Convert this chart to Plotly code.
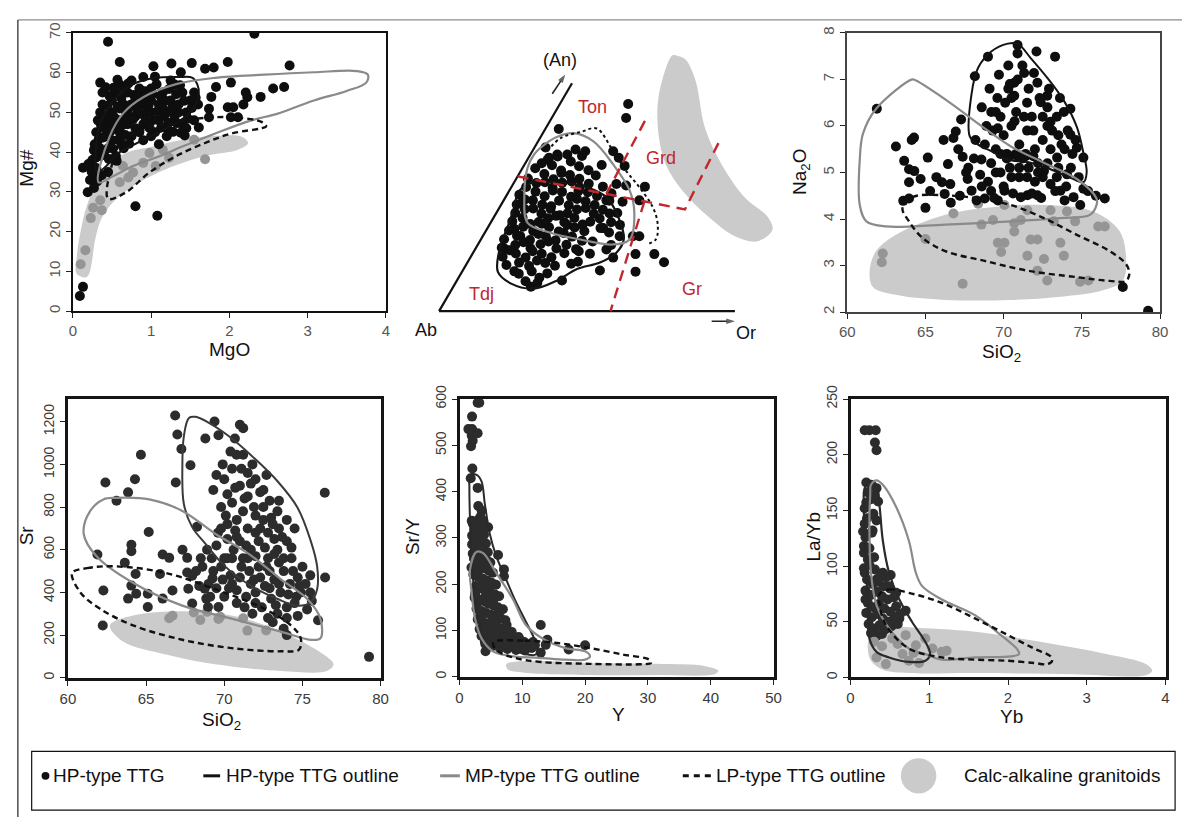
import plotly.graph_objects as go

W, H = 1190, 819
OFF = 0
FW, FH = W - 2 * OFF, H - 2 * OFF

# ================= DATA =================
# ---- Panel 1: Mg# vs MgO ----
P1_HP_POINTS = [(0.45,67.8),(2.32,69.8),(0.60,62.7),(1.03,61.6),(1.26,62.3),(1.52,62.4),(1.98,62.7),(2.77,61.8),
    (0.35,57.5),(0.90,58.9),(1.38,60.1),(1.69,61.0),(1.80,61.3),(2.02,57.5),(1.83,56.4),(1.77,53.9),(2.21,55.0),
    (2.23,53.8),(2.40,53.9),(2.56,56.0),(2.70,56.4),(1.98,51.3),(2.05,51.3),(2.18,52.0),(1.74,50.9),(2.02,48.8),
    (2.11,48.8),(1.74,48.8),(1.61,46.2),(0.13,36.1),(0.19,29.9),(0.80,26.4),(1.08,24.0),(0.13,6.1),(0.09,3.8),
    (0.25,38),(0.28,42),(0.30,45),(0.32,48),(0.35,50),(0.38,52),(0.40,46),(0.42,44),(0.45,41),(0.30,36),(0.35,39),
    (0.40,40),(0.50,43),(0.50,47),(0.50,50),(0.50,53),(0.55,55),(0.60,48),(0.60,45),(0.65,52),(0.70,55),(0.70,50),
    (0.70,47),(0.75,44),(0.80,53),(0.80,49),(0.85,56),(0.90,52),(0.90,47),(0.95,54),(1.00,50),(1.00,56),(1.05,45),
    (1.10,52),(1.10,48),(1.15,55),(1.20,50),(1.20,46),(1.25,53),(1.30,49),(1.30,57),(1.35,52),(1.40,47),(1.40,55),
    (1.45,50),(1.50,53),(1.55,55),(1.60,52),(1.55,48),(0.22,33),(0.27,31),(0.20,37),(0.45,35),(0.30,34),(1.00,44),
    (0.90,43),(1.20,44),(0.60,57),(0.75,58),(1.05,59),(1.25,58),(0.55,39),(0.65,41),(0.85,45),(1.10,42),
    (0.60,51),(0.75,52),(0.95,50),(1.15,51),(1.35,50),(0.45,49),(0.55,46),(0.80,46),(1.00,53),(1.45,46),
    (0.27,40.5),(0.33,43.2),(0.36,46.8),(0.41,49.3),(0.44,51.7),(0.47,54.1),(0.52,56.2),(0.29,38.6),(0.34,41.1),
    (0.39,43.7),(0.43,47.4),(0.48,45.2),(0.53,48.8),(0.57,51.4),(0.62,53.6),(0.66,55.9),(0.71,57.3),(0.58,43.1),
    (0.63,46.7),(0.68,49.2),(0.73,51.8),(0.78,54.4),(0.83,52.1),(0.88,49.6),(0.93,47.9),(0.97,51.9),(1.02,54.7),
    (1.07,57.1),(1.12,54.1),(1.17,49.3),(1.22,47.4),(1.27,51.2),(1.32,54.6),(1.37,56.8),(1.42,52.9),(1.47,48.4),
    (1.52,51.1),(1.57,53.7),(0.67,44.3),(0.72,42.1),(0.77,48.3),(0.82,50.7),(0.87,53.9),(0.92,55.3),(0.98,46.1),
    (1.03,48.1),(1.08,50.3),(1.13,46.2),(1.18,52.9),(1.23,55.9),(1.28,45.1),(1.33,47.3),(1.38,44.9),(1.43,44.2),
    (0.46,38.3),(0.51,40.9),(0.56,37.8),(0.37,34.2),(0.24,35.1),(0.31,32.6),(0.62,42.1),(0.42,56.3),(0.57,58.2),
    (0.38,55.0)]
P1_CA_POINTS = [(0.10,11.8),(0.16,15.3),(0.23,23.4),(0.26,26.0),(0.37,25.4),(0.35,27.9),(0.60,32.4),(0.71,33.6),
    (0.90,37.3),(0.98,39.8),(1.15,40.6),(1.23,38.6),(1.55,43.1),(1.69,38.2),(0.64,36.5),(0.77,34.9),(1.06,36.5)]
P1_CA_REGION = [(0.05,9.4),(0.18,8.6),(0.29,18.4),(0.37,23.4),(0.56,28.3),(0.85,32.4),(1.19,35.7),(1.69,39.0),
    (2.11,40.6),(2.24,42.3),(2.16,43.9),(1.82,44.1),(1.40,43.1),(1.02,41.4),(0.68,39.8),(0.43,36.5),(0.31,32.4),
    (0.18,26.6),(0.10,20.1),(0.05,13.5)]
P1_HP_OUTLINE = [(0.31,34.9),(0.30,42),(0.35,47.2),(0.52,53.0),(0.77,57.1),(1.06,58.7),(1.36,58.9),(1.53,58.7),
    (1.59,57.1),(1.61,54.6),(1.5,50),(1.2,46),(0.9,43),(0.6,40),(0.4,36)]
P1_MP_OUTLINE = [(0.33,32.4),(0.47,43.9),(0.64,49.7),(0.90,53.8),(1.32,57.1),(1.82,58.7),(2.45,59.5),(3.08,60.1),
    (3.63,60.4),(3.77,59.5),(3.75,57.5),(3.50,55.4),(3.08,53.0),(2.62,49.7),(2.28,48.0),(1.82,44.7),(1.40,41.4),
    (1.11,39.0),(0.77,36.5),(0.52,34.0)]
P1_LP_OUTLINE = [(0.45,28.3),(0.52,38.2),(0.64,43.1),(0.90,45.6),(1.32,47.6),(1.74,48.7),(2.11,48.7),(2.41,47.6),
    (2.47,46.5),(2.41,46.0),(2.03,44.7),(1.69,42.3),(1.32,39.0),(0.98,34.9),(0.68,29.9)]

# ---- Panel 2: Ab-An-Or feldspar diagram (projected coordinates, Ab=(0,0), Or=(100,0)) ----
P2_TRI_LEFT = [(0, 0), (45.2, 78.0)]
P2_TRI_BOTTOM = [(0, 0), (100.6, 0)]
P2_AN_ARROW = [(38.5, 74.4), (42.9, 81.0)]
P2_OR_ARROW = [(92.7, -3.5), (100.6, -3.5)]
P2_FIELD_LINES = [[(26.7,46.1),(83.6,34.8),(95.0,57.5)],
                  [(70.0,65.1),(56.9,40.2)],
                  [(69.8,37.5),(58.3,0)]]
P2_FIELD_LABELS = [("Ton",52.2,69.8),("Grd",75.4,52.5),("Tdj",14.4,5.8),("Gr",86.0,7.7)]
P2_POINTS = [(64.3,70.9),(63.6,66.1),(40.7,62.3),(36.2,56.0),(37.4,52.5),(40.2,53.6),(43.6,53.6),(46.4,55.3),
    (49.7,54.7),(55.3,50.0),(59.2,54.7),(61.1,52.5),(63.1,49.7),(60.3,43.5),(63.6,43.0),(70.0,42.6),(68.1,37.9),
    (56.9,37.9),(58.0,33.4),(55.8,28.4),(61.4,25.6),(65.9,25.6),(68.1,25.6),(66.8,19.5),(73.2,19.5),(76.5,16.7),
    (66.8,13.5),(59.2,18.3),(56.9,21.1),(54.7,13.9),(41.8,10.5),(31.2,8.3),(25.6,13.6),(22.3,21.3),(25.6,28.2),
    (27.9,36.8),
    (36.9,51.8),(40.3,52.9),(44.8,51.2),(48.6,53.1),(32.7,48.9),(38.4,49.9),(41.5,48.1),(47.6,49.6),(50.8,48.2),
    (34.9,50.6),(30.2,45.4),(35.8,46.9),(38.9,45.1),(44.5,46.6),(47.7,45.3),(53.3,46.4),(41.6,47.3),(29.6,42.5),
    (33.1,43.8),(38.6,42.2),(41.9,43.9),(47.8,42.4),(50.9,43.6),(55.7,42.6),(36.0,44.1),(45.1,44.4),(27.3,39.8),
    (32.8,40.9),(35.9,39.3),(41.8,40.8),(44.9,39.1),(50.6,40.7),(53.7,39.4),(58.6,40.3),(38.7,41.3),(47.4,41.1),
    (26.4,36.5),(31.9,37.9),(35.1,36.4),(40.8,37.8),(44.1,36.2),(49.8,37.6),(52.9,36.3),(57.9,37.8),(29.2,38.2),
    (38.1,35.9),(46.9,38.4),(25.9,33.6),(29.1,34.9),(34.8,33.4),(37.9,35.0),(43.7,33.5),(46.9,34.8),(52.6,33.3),
    (55.7,34.7),(60.6,33.6),(32.0,35.1),(41.1,32.8),(49.9,35.3),(24.9,30.7),(28.4,31.9),(33.9,30.5),(37.1,31.8),
    (42.6,30.4),(46.0,31.9),(51.4,30.6),(54.6,31.7),(58.5,30.4),(31.0,29.8),(39.8,32.6),(48.8,29.6),(23.8,27.6),
    (28.6,28.9),(32.0,27.4),(37.4,28.7),(40.7,27.2),(46.1,28.6),(49.4,27.3),(54.9,28.4),(35.0,29.9),(43.6,29.5),
    (26.5,25.8),(22.1,24.6),(27.6,25.7),(30.9,24.3),(36.3,25.6),(39.6,24.2),(45.2,25.5),(48.6,24.1),(33.8,26.4),
    (42.4,26.7),(21.3,21.7),(25.9,22.6),(31.1,21.5),(34.5,22.9),(39.9,21.4),(43.3,22.7),(28.7,23.6),(37.2,23.8),
    (46.6,21.2),(21.6,18.6),(26.1,19.7),(29.4,18.3),(34.9,19.6),(38.2,18.4),(42.6,19.8),(31.8,20.5),(24.0,20.8),
    (22.9,15.8),(27.2,16.6),(30.6,15.4),(36.1,16.5),(39.4,15.5),(33.3,17.3),(44.9,16.2),(27.1,12.8),(31.5,13.6),
    (36.8,12.9),(34.1,11.4),(29.4,10.2),(33.4,9.6),(47.5,20.5),(52.2,23.8),(57.8,26.9),(61.5,29.5),(47.2,16.9),
    (51.3,19.6),(58.5,22.6),(62.4,37.4)]
P2_CA_REGION = [(79.3,87.5),(76.0,79.5),(74.3,70.4),(74.8,59.2),(77.1,50.2),(82.7,41.3),(91.6,32.3),(100.6,25.6),
    (108.4,23.9),(113.4,27.9),(111.7,32.3),(103.9,39.0),(96.1,50.2),(90.5,62.5),(87.1,79.3),(83.8,86.1),(81.0,87.4)]
P2_HP_OUTLINE = [(26.7,40.2),(30.1,43.5),(40.2,44.1),(50.2,42.4),(56.9,39.0),(60.9,32.3),(62.8,24.5),(60.3,20.0),
    (54.7,16.6),(46.9,14.4),(40.2,10.5),(32.3,7.7),(24.5,9.4),(20.0,13.4),(20.6,21.3),(23.4,29.1),(25.6,35.8)]
P2_MP_OUTLINE = [(35.7,56.9),(40.2,59.7),(45.7,60.9),(52.5,58.1),(59.2,50.2),(64.8,41.3),(66.4,33.6),(64.8,24.5),
    (59.2,22.8),(48.0,24.5),(37.9,26.8),(30.1,30.2),(29.0,39.4),(30.1,49.1),(32.3,53.6)]
P2_LP_OUTLINE = [(36.8,54.7),(41.3,59.2),(48.5,61.4),(53.6,62.5),(59.2,54.7),(63.6,48.0),(68.1,42.4),(72.6,35.7),
    (74.3,30.1),(73.7,24.5),(70.4,22.8)]

# ---- Panel 3: Na2O vs SiO2 ----
P3_HP_POINTS = [(61.89,6.37),(63.11,5.56),(64.12,5.70),(64.27,5.75),(63.64,5.25),(63.95,5.07),(64.29,5.03),
    (63.95,4.79),(64.69,4.86),(65.15,5.32),(65.0,4.24),(63.58,4.39),(63.95,4.44),(66.16,5.70),(66.79,5.74),
    (66.94,5.88),(66.44,5.18),(66.06,4.79),(66.59,4.75),(66.23,4.54),(66.62,4.35),(67.28,6.14),(67.38,5.34),
    (67.74,5.10),(67.70,4.86),(68.16,7.07),(69.0,7.49),(67.95,4.61),(68.58,5.28),(69.21,6.30),(69.63,5.95),
    (70.05,4.61),(70.89,7.56),(70.89,7.74),(70.68,6.93),(71.31,7.14),(71.94,7.14),(70.68,6.65),(72.16,6.93),
    (73.29,7.49),(72.79,6.65),(72.37,6.51),(73.85,6.30),(74.27,6.37),(73.0,6.09),(74.27,5.81),(74.68,5.53),
    (75.10,5.32),(73.42,5.32),(72.58,5.03),(74.05,4.96),(73.0,4.75),(73.63,4.61),(74.47,4.47),(76.47,4.44),
    (75.10,4.65),(71.52,4.51),(72.16,4.51),(71.10,4.47),(69.63,4.40),(68.79,4.44),(68.27,4.40),(77.62,2.54),
    (79.24,2.03),(69.5,5.5),(70,5.8),(70.5,6.0),(71,5.6),(71.5,5.9),(72,5.5),(72.5,5.7),(70.2,5.3),(71.2,5.3),
    (72.2,5.2),(69.8,6.2),(70.8,6.3),(71.8,6.2),(72.8,6.0),(70.5,6.6),(71.5,6.5),(69.5,5.0),(70.5,4.9),(71.5,4.9),
    (72.5,4.9),(73.5,5.1),(69,4.8),(70,4.7),(71,5.1),(72,4.8),(73,5.5),(73.5,5.8),(69.3,5.9),(68.8,5.6),(70.2,5.4),
    (70.8,5.4),(71.4,5.4),(69.8,5.4),(72.8,6.4),(70.4,6.9),(69.6,6.6),(71.2,7.3),(73.9,5.5),(74.3,5.1),(68.5,4.95),
    (69.2,4.6),(71.8,4.55),(73.3,4.6),(70.4,5.35),(70.9,5.35),(71.4,5.35),(71.9,5.35),
    (68.6,6.4),(69.1,6.8),(69.7,7.1),(70.3,7.3),(70.9,7.0),(71.6,6.8),(72.3,6.6),(72.9,6.8),(73.4,6.2),(74.1,5.9),
    (74.6,5.7),(68.9,6.0),(69.5,6.3),(70.1,6.5),(70.7,6.1),(71.3,6.2),(71.9,5.9),(72.5,6.2),(73.1,5.9),(73.7,5.6),
    (74.4,5.4),(69.2,5.2),(69.8,5.0),(70.4,5.1),(71.0,4.9),(71.6,5.1),(72.2,5.0),(72.8,5.2),(73.4,4.9),(74.0,4.7),
    (74.8,4.9),(75.4,4.6),(75.9,4.5),(67.2,4.5),(67.6,5.0),(68.1,5.3),(68.6,4.7),(69.4,4.45),(70.6,4.55),(72.4,4.45),
    (73.9,4.4),(74.9,4.3),(65.7,4.9),(65.3,4.6),(68.2,5.7),(67.1,5.5),(72.1,7.6),(70.3,6.8),(73.6,6.6)]
P3_CA_POINTS = [(62.27,3.26),(62.21,3.07),(65.0,3.57),(66.79,4.12),(67.38,2.61),(68.58,3.88),(69.32,3.98),
    (69.63,3.49),(70.05,3.49),(69.84,3.29),(70.68,3.73),(70.68,3.91),(71.10,3.98),(71.52,4.19),(71.73,3.56),
    (72.16,3.56),(71.52,3.21),(72.16,2.89),(72.58,3.14),(72.79,2.68),(73.0,4.19),(73.21,3.95),(73.63,3.49),
    (73.85,3.21),(74.05,4.16),(74.57,3.95),(74.89,2.65),(75.42,2.68),(76.05,3.84),(76.47,3.84),(70.05,4.30),(68.37,4.33)]
P3_CA_REGION = [(61.43,2.89),(61.85,3.31),(63.11,3.66),(66.27,4.09),(69.42,4.26),(72.57,4.30),(75.73,4.16),
    (77.41,3.74),(77.83,3.17),(77.62,2.68),(76.36,2.47),(73.63,2.33),(70.47,2.26),(66.27,2.26),(63.11,2.37),(61.64,2.54)]
P3_HP_OUTLINE = [(67.84,5.77),(67.95,6.69),(68.37,7.25),(69.21,7.60),(70.26,7.77),(70.89,7.77),(71.73,7.46),
    (72.78,7.04),(73.84,6.55),(74.68,5.98),(75.10,5.42),(75.31,5.00),(75.10,4.79),(74.47,4.86),(73.00,5.07),
    (71.73,5.21),(70.26,5.28),(69.21,5.46),(68.37,5.60)]
P3_MP_OUTLINE = [(61.85,6.37),(64.16,7.00),(64.37,6.98),(66.69,6.47),(68.37,6.05),(70.47,5.56),(72.57,5.21),
    (74.68,4.86),(75.94,4.44),(75.94,4.30),(75.52,4.09),(73.63,4.02),(70.47,3.95),(66.27,3.88),(62.48,3.84),
    (61.22,3.95),(60.80,4.30),(60.80,5.28),(61.01,5.84)]
P3_LP_OUTLINE = [(63.53,4.23),(64.16,4.47),(66.27,4.51),(68.37,4.44),(70.47,4.30),(72.57,4.02),(74.68,3.66),
    (76.78,3.31),(77.83,3.03),(78.04,2.82),(77.83,2.67),(76.78,2.67),(74.68,2.75),(71.52,2.89),(68.79,3.10),
    (66.27,3.31),(64.79,3.60),(63.95,3.95)]

# ---- Panel 4: Sr vs SiO2 ----
P4_HP_POINTS = [(66.86,1229),(67.0,1140),(67.26,1072),(64.67,1045),(62.40,915),(64.29,930),(63.85,869),(63.11,830),
    (67.84,996),(66.90,915),(68.79,1121),(69.38,1201),(69.63,1137),(70.68,1121),(71.0,1186),(71.21,1170),(70.79,1045),
    (71.21,1045),(76.43,867),(76.45,470),(79.26,98),(61.89,578),(62.27,409),(62.23,245),(65.17,683),(64.06,623),
    (64.06,593),(63.64,539),(64.33,486),(64.06,432),(63.85,371),(64.37,394),(65.11,394),(65.11,332),(66.06,578),
    (66.48,562),(66.06,371),(66.69,409),(65.89,486),(67.33,600),(67.63,562),(68.26,708),(67.63,493),(67.70,417),
    (67.95,348),(68.85,371),(68.75,417),(68.96,332),(69.63,332),(69.25,466),(67.95,478),
    (69.5,950),(70,930),(70.2,860),(69.8,800),(70.5,820),(71,900),(71.5,960),(72,930),(72.5,880),(71.2,780),(70.8,740),
    (71.5,700),(72,760),(72.5,800),(73,750),(73.5,700),(72.8,680),(72.2,640),(71.7,600),(71.2,560),(70.6,600),(70.2,650),
    (69.8,700),(69.5,620),(69.2,560),(69.8,520),(70.4,480),(71,470),(71.6,500),(72.2,520),(72.8,560),(73.4,600),(74,640),
    (74.3,560),(73.8,500),(73.2,460),(72.6,430),(72,400),(71.4,380),(70.8,410),(70.3,420),(72.4,330),(73,370),(73.6,400),
    (74.2,440),(74.7,470),(75,520),(74.6,380),(74,330),(73.4,300),(72.8,280),(71.8,300),(71.3,330),(73.5,830),(74,740),
    (74.5,700),(71.8,1000),(72.7,950),(70.5,980),(74.5,350),(73.8,230),(74,200),(74.7,290),(75.3,320),(76,270),
    (75.6,360),(74.9,400),(75.5,480),(72,570),(70.5,560),(71,640),(73.5,540),(70,380),(69.5,420),(69,440),(68.5,560),
    (68.2,500),(71.5,850),(72.3,700),(70.7,690),(73.2,650),(71.9,460),(70.2,560),(72.9,500),
    (69.3,880),(69.9,1000),(70.4,1060),(71.1,980),(71.7,910),(72.3,870),(72.9,830),(73.4,780),(70.1,760),(70.7,890),
    (71.3,840),(71.9,800),(72.5,740),(73.1,720),(73.7,660),(74.3,610),(69.6,680),(70.2,720),(70.8,660),(71.4,620),
    (72.0,680),(72.6,610),(73.2,580),(73.8,560),(74.4,500),(69.3,500),(69.9,460),(70.5,440),(71.1,520),(71.7,440),
    (72.3,470),(72.9,420),(73.5,440),(74.1,390),(74.8,430),(70.0,560),(71.5,560),(72.7,520),(73.3,340),(72.0,350),
    (70.8,350),(74.0,280),(73.1,260),(75.2,440),(75.5,400),(68.9,600),(68.6,520),(69.1,380),(68.4,430)]
P4_CA_POINTS = [(66.48,279),(66.69,291),(68.05,306),(68.47,271),(69.63,276),(69.74,286),(71.21,279),(71.48,221),
    (72.68,222),(68.9,309)]
P4_CA_REGION = [(62.69,246),(64.16,292),(67.32,312),(70.47,292),(73.63,216),(76.36,109),(76.99,63),(76.57,32),
    (73.63,32),(69.42,63),(66.27,109),(63.53,170)]
P4_HP_OUTLINE = [(67.74,1218),(67.42,1134),(67.32,981),(67.42,813),(67.95,706),(68.79,629),(70.05,522),(71.73,430),
    (73.42,369),(74.68,338),(75.52,354),(75.94,415),(75.94,522),(75.52,644),(74.68,798),(73.42,920),(71.73,1042),
    (70.26,1134),(68.99,1196),(68.16,1223)]
P4_MP_OUTLINE = [(63.11,843),(65.21,836),(67.32,782),(69.42,675),(71.52,583),(73.63,461),(75.31,369),(76.15,277),
    (76.15,185),(75.52,178),(73.63,216),(70.47,277),(67.32,338),(64.16,445),(61.85,568),(61.01,675),(61.43,782),(62.27,836)]
P4_LP_OUTLINE = [(60.27,491),(61.22,514),(63.11,522),(66.27,491),(69.42,415),(72.57,323),(74.26,246),(74.89,185),
    (74.78,132),(73.63,124),(70.47,139),(67.32,178),(64.16,246),(62.06,323),(60.80,400)]

# ---- Panel 5: Sr/Y vs Y ----
P5_HP_POINTS = [(2.88,592),(3.14,592),(1.99,562),(1.41,535),(1.99,535),(1.94,521),(2.88,526),(1.83,498),(2.09,510),
    (2.04,450),(1.78,429),(2.88,408),(2.98,369),(3.51,359),(1.94,337),(3.77,337),(4.55,323),(6.13,263),(7.07,232),
    (7.07,217),(4.14,55),(4.03,76),(12.93,112),(13.98,80),(13.72,69),(17.38,59),(19.99,68),(12.93,52),(9.27,62),
    (10.31,59),(8.22,69),
    (2.1,331),(2.8,337),(3.5,326),(2.4,318),(3.2,312),(3.9,307),(2.0,305),(2.7,299),(3.6,294),(4.2,288),(2.3,284),
    (3.0,279),(3.8,275),(4.5,269),(2.1,266),(2.8,261),(3.5,256),(4.3,252),(4.9,247),(2.5,243),(3.2,238),(4.0,234),
    (4.7,229),(5.3,225),(2.2,221),(2.9,216),(3.7,212),(4.4,208),(5.1,203),(5.8,199),(2.6,196),(3.4,191),(4.1,187),
    (4.9,183),(5.6,178),(6.3,174),(2.4,171),(3.1,167),(3.9,163),(4.6,158),(5.4,154),(6.1,150),(6.9,146),(2.7,147),
    (3.5,142),(4.2,138),(5.0,134),(5.8,130),(6.6,126),(7.3,122),(2.9,124),(3.7,119),(4.4,115),(5.2,111),(6.0,108),
    (6.8,104),(7.6,101),(8.3,97),(3.2,103),(4.0,99),(4.8,95),(5.6,92),(6.4,89),(7.2,86),(8.0,83),(8.9,80),(9.8,78),
    (3.5,88),(4.3,84),(5.1,80),(6.0,76),(6.9,73),(7.8,70),(8.8,67),(9.9,66),(10.9,70),(11.7,75),(4.1,71),(5.2,66),
    (6.4,62),(7.6,60),(9.0,58),(10.4,57),(11.5,62),(12.0,68),(10.3,75),(9.4,86),(2.3,255),(1.9,236),(2.0,286),
    (3.3,345),(3.0,228),(4.6,196),(5.4,166),(3.3,133),(6.2,138),(4.7,105),(7.5,112),(3.8,101),(5.5,120),(2.5,180),
    (4.2,176),(3.6,200),(2.8,159)]
P5_CA_REGION = [(7.43,27),(10.31,34),(20.79,30),(31.26,28),(39.11,23),(41.20,13),(40.68,6),(31.26,4),(20.79,4),
    (10.31,9),(7.70,16)]
P5_HP_OUTLINE = [(1.67,436),(2.72,436),(3.50,422),(4.03,373),(4.81,309),(5.86,260),(7.43,210),(9.0,161),(10.57,119),
    (11.88,83),(12.40,62),(12.14,48),(10.83,48),(9.0,55),(6.91,62),(5.33,73),(4.03,83),(3.24,112),(2.46,168),
    (1.93,253),(1.67,337),(1.57,408)]
P5_MP_OUTLINE = [(1.67,232),(2.72,270),(3.76,267),(5.86,224),(8.48,168),(10.57,112),(13.19,83),(16.85,62),(19.99,55),
    (20.78,44),(19.99,37),(16.85,37),(12.66,41),(8.48,44),(5.33,55),(3.50,83),(2.46,126),(1.93,182)]
P5_LP_OUTLINE = [(5.60,76),(10.31,78),(15.55,73),(20.79,62),(26.02,48),(30.21,37),(30.47,30),(28.64,27),(20.79,28),
    (12.93,32),(8.74,41),(6.13,55),(5.34,69)]

# ---- Panel 6: La/Yb vs Yb ----
P6_HP_POINTS = [(0.18,222),(0.24,222),(0.32,222),(0.31,211),(0.33,204),(0.20,175),(0.26,173),(0.33,170),(0.35,158),
    (0.20,157),(0.33,141),(0.18,138),(0.16,131),(0.28,132),(0.20,117),(0.22,106),(0.18,94),(0.41,94),(0.51,92),
    (0.19,70),(0.33,88),(0.49,82),(0.58,76),(0.70,60),(0.62,53),
    (0.17,98),(0.24,101),(0.31,97),(0.38,93),(0.45,90),(0.21,88),(0.28,84),(0.35,86),(0.42,82),(0.50,80),(0.19,78),
    (0.26,74),(0.33,77),(0.40,73),(0.47,70),(0.55,72),(0.22,67),(0.29,63),(0.36,66),(0.43,62),(0.51,59),(0.58,64),
    (0.20,58),(0.27,54),(0.34,57),(0.41,53),(0.48,50),(0.56,54),(0.63,57),(0.23,48),(0.30,44),(0.37,47),(0.44,43),
    (0.52,46),(0.60,48),(0.26,40),(0.33,37),(0.40,39),(0.17,112),(0.24,116),(0.30,108),(0.19,126),(0.27,130),
    (0.21,143),(0.29,147),(0.18,152),(0.26,160),(0.22,166),(0.30,163),(0.17,118)]
P6_CA_POINTS = [(0.45,12),(0.66,21),(0.83,29),(1.04,26),(1.16,23),(1.22,24),(0.74,15),(0.87,13),(0.53,35),(0.95,35),
    (0.33,18),(0.40,28),(0.60,30),(0.70,38),(0.80,22),(0.30,32)]
P6_CA_REGION = [(0.24,38),(0.33,47),(0.74,45),(1.58,41),(2.41,32),(3.25,21),(3.75,12),(3.83,6),(3.75,2),(2.83,3),
    (1.58,4),(0.74,4),(0.41,7),(0.26,15),(0.22,26)]
P6_HP_OUTLINE = [(0.18,170),(0.26,176),(0.33,173),(0.37,153),(0.41,123),(0.49,94),(0.62,70),(0.78,50),(0.95,32),
    (1.01,21),(0.95,15),(0.74,14),(0.49,18),(0.33,23),(0.24,35),(0.22,65),(0.20,94),(0.18,123),(0.17,153)]
P6_MP_OUTLINE = [(0.26,173),(0.33,177),(0.41,173),(0.58,153),(0.74,123),(0.83,94),(0.91,82),(1.16,70),(1.58,56),
    (1.91,38),(2.12,25),(2.14,21),(2.04,19),(1.58,18),(1.16,16),(0.95,21),(0.74,26),(0.49,44),(0.33,65),(0.26,94),
    (0.24,138),(0.25,164)]
P6_LP_OUTLINE = [(0.37,75),(0.49,79),(0.74,76),(1.16,67),(1.58,53),(2.0,38),(2.33,26),(2.54,19),(2.56,15),(2.50,12),
    (2.33,13),(2.0,15),(1.58,16),(1.16,18),(0.74,26),(0.45,47),(0.37,65)]

LEGEND_LABELS = ["HP-type TTG", "HP-type TTG outline", "MP-type TTG outline", "LP-type TTG outline",
                 "Calc-alkaline granitoids"]

# ================= STYLE =================
BLACK_PT = "#0e0e0e"
DARK_PT = "#2c2c2c"
GRAY_PT = "#959595"
CA_FILL = "#cbcbcb"
HP_LINE = "#141414"
MP_LINE = "#8a8a8a"
RED = "#c1272d"
FONT = "Liberation Sans, Arial, sans-serif"
PT_SIZE = 10

fig = go.Figure()


def unzip(pts):
    return [p[0] for p in pts], [p[1] for p in pts]


def closed(pts):
    return list(pts) + [pts[0]]


def add_region(pts, ax):
    x, y = unzip(closed(pts))
    fig.add_trace(go.Scatter(x=x, y=y, mode="lines", fill="toself", fillcolor=CA_FILL,
                             line=dict(width=0, color=CA_FILL, shape="spline", smoothing=1.0),
                             xaxis="x" + ax, yaxis="y" + ax, hoverinfo="skip", showlegend=False))


def add_points(pts, ax, color, size=PT_SIZE):
    x, y = unzip(pts)
    fig.add_trace(go.Scatter(x=x, y=y, mode="markers", marker=dict(size=size, color=color, line=dict(width=0)),
                             xaxis="x" + ax, yaxis="y" + ax, hoverinfo="skip", showlegend=False))


def add_outline(pts, ax, color, width=2, dash="solid", close=True):
    x, y = unzip(closed(pts) if close else pts)
    fig.add_trace(go.Scatter(x=x, y=y, mode="lines",
                             line=dict(width=width, color=color, dash=dash, shape="spline", smoothing=1.0),
                             xaxis="x" + ax, yaxis="y" + ax, hoverinfo="skip", showlegend=False))


def add_arrow(seg, ax):
    x, y = unzip(seg)
    fig.add_trace(go.Scatter(x=x, y=y, mode="lines+markers", line=dict(width=1.6, color="#222222"),
                             marker=dict(symbol=["circle", "arrow"], size=[0, 9], angleref="previous",
                                         color="#222222", line=dict(width=0)),
                             xaxis="x" + ax, yaxis="y" + ax, hoverinfo="skip", showlegend=False))


# Panel 1
add_region(P1_CA_REGION, "")
add_points(P1_CA_POINTS, "", GRAY_PT)
add_points(P1_HP_POINTS, "", BLACK_PT)
add_outline(P1_HP_OUTLINE, "", HP_LINE, 2)
add_outline(P1_MP_OUTLINE, "", MP_LINE, 2.2)
add_outline(P1_LP_OUTLINE, "", "#111111", 2.4, "6px,4px")

# Panel 2 (feldspar triangle)
add_region(P2_CA_REGION, "2")
add_points(P2_POINTS, "2", BLACK_PT)
add_outline(P2_HP_OUTLINE, "2", HP_LINE, 2.2)
add_outline(P2_MP_OUTLINE, "2", MP_LINE, 2.2)
add_outline(P2_LP_OUTLINE, "2", "#111111", 2, "3px,3px", close=False)
for seg in (P2_TRI_LEFT, P2_TRI_BOTTOM):
    x, y = unzip(seg)
    fig.add_trace(go.Scatter(x=x, y=y, mode="lines", line=dict(width=2.2, color="#111111"),
                             xaxis="x2", yaxis="y2", hoverinfo="skip", showlegend=False))
for seg in P2_FIELD_LINES:
    x, y = unzip(seg)
    fig.add_trace(go.Scatter(x=x, y=y, mode="lines", line=dict(width=2.4, color=RED, dash="11px,7px"),
                             xaxis="x2", yaxis="y2", hoverinfo="skip", showlegend=False))
add_arrow(P2_AN_ARROW, "2")
add_arrow(P2_OR_ARROW, "2")

# Panel 3
add_region(P3_CA_REGION, "3")
add_points(P3_CA_POINTS, "3", GRAY_PT)
add_points(P3_HP_POINTS, "3", BLACK_PT)
add_outline(P3_HP_OUTLINE, "3", HP_LINE, 2)
add_outline(P3_MP_OUTLINE, "3", MP_LINE, 2.2)
add_outline(P3_LP_OUTLINE, "3", "#111111", 2.4, "6px,4px")

# Panel 4
add_region(P4_CA_REGION, "4")
add_points(P4_CA_POINTS, "4", GRAY_PT)
add_points(P4_HP_POINTS, "4", DARK_PT)
add_outline(P4_HP_OUTLINE, "4", "#3a3a3a", 2)
add_outline(P4_MP_OUTLINE, "4", MP_LINE, 2.2)
add_outline(P4_LP_OUTLINE, "4", "#111111", 2.4, "6px,4px")

# Panel 5
add_region(P5_CA_REGION, "5")
add_points(P5_HP_POINTS, "5", DARK_PT)
add_outline(P5_HP_OUTLINE, "5", "#2a2a2a", 2)
add_outline(P5_MP_OUTLINE, "5", MP_LINE, 2.2)
add_outline(P5_LP_OUTLINE, "5", "#111111", 2.4, "6px,4px")

# Panel 6
add_region(P6_CA_REGION, "6")
add_points(P6_HP_POINTS, "6", DARK_PT)
add_points(P6_CA_POINTS, "6", GRAY_PT)
add_outline(P6_HP_OUTLINE, "6", "#2a2a2a", 2.2)
add_outline(P6_MP_OUTLINE, "6", MP_LINE, 2.2)
add_outline(P6_LP_OUTLINE, "6", "#111111", 2.4, "6px,4px")


# ================= AXES (page pixel -> figure paper) =================
def fx(px):
    return (px - OFF) / FW


def fy(py):
    return 1 - (py - OFF) / FH


def xdom(a, b):
    return [fx(a), fx(b)]


def ydom(top, bottom):
    return [fy(bottom), fy(top)]


def ax_style(dom, rng, tickvals, anchor, linecolor, linewidth, tickcolor, size, is_y=False):
    d = dict(domain=dom, range=rng, tickvals=tickvals, anchor=anchor, showline=True, mirror=True,
             linecolor=linecolor, linewidth=linewidth, ticks="outside", ticklen=5, tickwidth=1.2,
             tickcolor="#222222", showgrid=False, zeroline=False,
             tickfont=dict(size=size, color=tickcolor, family=FONT))
    if is_y:
        d["tickangle"] = -90
    return d


layout_axes = dict(
    xaxis=ax_style(xdom(65.7, 383), [0, 4], [0, 1, 2, 3, 4], "y", "#111111", 2, "#555555", 15),
    yaxis=ax_style(ydom(19.3, 303), [0, 70], [0, 10, 20, 30, 40, 50, 60, 70], "x", "#111111", 2, "#555555", 15, True),
    xaxis2=dict(domain=xdom(400, 800), range=[-12.4, 121.8], visible=False, anchor="y2"),
    yaxis2=dict(domain=ydom(25, 330), range=[-9.06, 93.3], visible=False, anchor="x2"),
    xaxis3=ax_style(xdom(850.7, 1167.7), [60, 80], [60, 65, 70, 75, 80], "y3", "#444444", 1.6, "#555555", 15),
    yaxis3=ax_style(ydom(19.3, 304), [2, 8], [2, 3, 4, 5, 6, 7, 8], "x3", "#444444", 1.6, "#555555", 15, True),
    xaxis4=ax_style(xdom(60.7, 377.7), [60, 80], [60, 65, 70, 75, 80], "y4", "#151515", 3, "#3a3a3a", 15),
    yaxis4=ax_style(ydom(393, 677), [0, 1305], [0, 200, 400, 600, 800, 1000, 1200], "x4", "#151515", 3, "#3a3a3a", 14, True),
    xaxis5=ax_style(xdom(457.7, 776), [0, 50], [0, 10, 20, 30, 40, 50], "y5", "#151515", 3, "#3a3a3a", 15),
    yaxis5=ax_style(ydom(392.7, 676), [0, 600], [0, 100, 200, 300, 400, 500, 600], "x5", "#151515", 3, "#3a3a3a", 14, True),
    xaxis6=ax_style(xdom(854, 1173.3), [0, 4], [0, 1, 2, 3, 4], "y6", "#151515", 3, "#3a3a3a", 15),
    yaxis6=ax_style(ydom(392.7, 676.7), [0, 250], [0, 50, 100, 150, 200, 250], "x6", "#151515", 3, "#3a3a3a", 14, True),
)

# ================= ANNOTATIONS =================
ann = []


def ptxt(text, px, py, size=19, color="#111111", angle=0, xanchor="center", family=FONT):
    ann.append(dict(text=text, x=fx(px), y=fy(py), xref="paper", yref="paper", showarrow=False,
                    textangle=angle, xanchor=xanchor, yanchor="middle",
                    font=dict(size=size, color=color, family=family)))


# axis titles
ptxt("MgO", 225, 342)
ptxt("Mg#", 19, 157, angle=-90)
ptxt("SiO<sub>2</sub>", 1007, 346)
ptxt("Na<sub>2</sub>O", 804, 161, angle=-90)
ptxt("SiO<sub>2</sub>", 216, 721)
ptxt("Sr", 19, 532, angle=-90)
ptxt("Y", 619, 714)
ptxt("Sr/Y", 410, 533, angle=-90)
ptxt("Yb", 1017, 717)
ptxt("La/Yb", 817, 533, angle=-90)

# ternary labels
for label, lx, ly in P2_FIELD_LABELS:
    ann.append(dict(text=label, x=lx, y=ly, xref="x2", yref="y2", showarrow=False,
                    font=dict(size=18, color=RED, family=FONT)))
for label, lx, ly in [("(An)", 41.1, 86.0), ("Ab", -4.4, -6.6), ("Or", 104.5, -7.4)]:
    ann.append(dict(text=label, x=lx, y=ly, xref="x2", yref="y2", showarrow=False,
                    font=dict(size=18, color="#111111", family=FONT)))

# legend texts
LEG_Y = 777
for label, lx in zip(LEGEND_LABELS, [44, 219, 461, 716, 967]):
    ptxt(label, lx, LEG_Y, size=19, xanchor="left")

# ================= SHAPES =================
shapes = []


def pline(x0, y0, x1, y1, color, width, dash="solid"):
    shapes.append(dict(type="line", xref="paper", yref="paper", x0=fx(x0), y0=fy(y0), x1=fx(x1), y1=fy(y1),
                       line=dict(color=color, width=width, dash=dash)))


pline(10, 6, W, 6, "#8c8c8c", 1.2)
pline(10, 6, 10, H, "#222222", 1.2)
shapes.append(dict(type="rect", xref="paper", yref="paper", x0=fx(24), x1=fx(1183), y0=fy(812), y1=fy(752),
                   line=dict(color="#111111", width=1.2), fillcolor="rgba(0,0,0,0)"))
shapes.append(dict(type="circle", xref="paper", yref="paper", x0=fx(34), x1=fx(42), y0=fy(781), y1=fy(773),
                   line=dict(width=0), fillcolor="#111111"))
pline(198, LEG_Y, 215, LEG_Y, "#111111", 3)
pline(438, LEG_Y, 458, LEG_Y, MP_LINE, 3)
pline(684, LEG_Y, 714, LEG_Y, "#111111", 3, "6px,5px")
shapes.append(dict(type="circle", xref="paper", yref="paper", x0=fx(905), x1=fx(941), y0=fy(795), y1=fy(759),
                   line=dict(width=0), fillcolor=CA_FILL))

fig.update_layout(width=FW, height=FH, margin=dict(l=0, r=0, t=0, b=0), showlegend=False,
                  paper_bgcolor="white", plot_bgcolor="white", font=dict(family=FONT, color="#111111"),
                  annotations=ann, shapes=shapes, **layout_axes)

fig.write_html("out.html", config={"displayModeBar": False},
               post_script="document.documentElement.style.margin='0';document.body.style.margin='0';"
                           "document.documentElement.style.overflow='hidden';document.body.style.overflow='hidden';")
